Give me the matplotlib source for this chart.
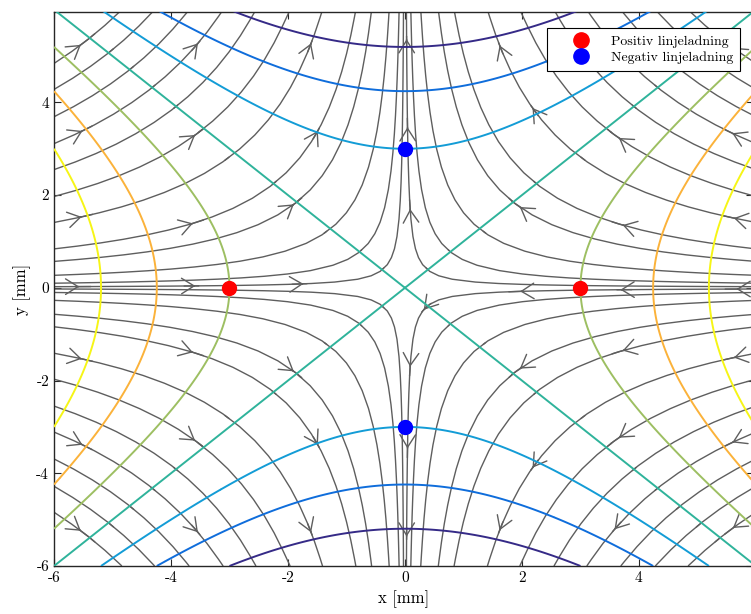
import numpy as np
import matplotlib.pyplot as plt

plt.rcParams['font.family'] = 'cmr10'
plt.rcParams['axes.unicode_minus'] = False

# linjeladninger (mm)
pos_x = [-3, 3]
pos_y = [0, 0]
neg_x = [0, 0]
neg_y = [3, -3]

# ekvipotensialnivaer for V = x^2 - y^2
levels = [-27, -18, -9, 0, 9, 18, 27]
level_colors = ['#352a87', '#0f6ddb', '#139cd6', '#2fb39b', '#9dbf62', '#fbb23a', '#f6f516']

# feltlinjene krysser venstre/hoyre kant i |y| = edge_y
edge_y = [0.025, 0.1, 0.27, 0.57, 0.84, 1.41, 1.97, 2.55, 3.11, 3.69, 4.28, 4.84, 5.43, 5.72]

line_color = '#5e5e5e'

x = np.linspace(-6, 6, 241)
y = np.linspace(-6, 6, 241)
X, Y = np.meshgrid(x, y)
V = X**2 - Y**2
Ey, Ex = np.gradient(-V, y, x)

fig = plt.figure(figsize=(7.51, 6.14), dpi=100)
ax = fig.add_axes([54 / 751, 48 / 614, 699 / 751, 554 / 614])

ax.contour(X, Y, V, levels=levels, colors=level_colors, linewidths=1.4, zorder=3)

# startpunkter langs kantene
ey = np.array(edge_y)
seeds = np.vstack([
    np.column_stack([np.full_like(ey, -6.0), ey]),
    np.column_stack([np.full_like(ey, -6.0), -ey]),
    np.column_stack([np.full_like(ey, 6.0), ey]),
    np.column_stack([np.full_like(ey, 6.0), -ey]),
])
ax.streamplot(x, y, Ex, Ey, start_points=seeds, broken_streamlines=False,
              arrowstyle='-', color=line_color, linewidth=1.0, maxlength=10,
              zorder=2)

# piler plassert i et rutenett, flyttet til naermeste feltlinje
cvals = seeds[:, 0] * seeds[:, 1]
t = np.linspace(-6, 6, 6001)
t = t[t != 0]
curve_pts = []
for c in cvals:
    yy = c / t
    ok = np.abs(yy) <= 6
    curve_pts.append(np.column_stack([t[ok], yy[ok]]))
    curve_pts.append(np.column_stack([yy[ok], t[ok]]))
curve_pts = np.vstack(curve_pts)

cols = np.linspace(-5.5, 5.6, 7)
rows = np.linspace(5.3, -5.3, 7)
arrow_pts = []
for gy in rows:
    for gx in cols:
        d = np.hypot((curve_pts[:, 0] - gx) * 58.5, (curve_pts[:, 1] - gy) * 46.3)
        arrow_pts.append(curve_pts[np.argmin(d)])
arrow_pts = np.clip(np.array(arrow_pts), -5.9, 5.9)

ax.streamplot(x, y, Ex, Ey, start_points=arrow_pts, broken_streamlines=False,
              density=3, maxlength=0.03, minlength=0.001, arrowsize=2,
              arrowstyle='->,head_length=0.45,head_width=0.28',
              color=line_color, linewidth=1.0, zorder=2)

ax.plot(pos_x, pos_y, 'o', color='red', ms=10, zorder=5, label='Positiv linjeladning')
ax.plot(neg_x, neg_y, 'o', color='blue', ms=10, zorder=5, label='Negativ linjeladning')

ax.set_xlim(-6, 5.95)
ax.set_ylim(-6, 5.95)
ax.set_xticks([-6, -4, -2, 0, 2, 4])
ax.set_yticks([-6, -4, -2, 0, 2, 4])
ax.tick_params(direction='in', top=True, right=True, length=5, width=0.8,
               labelsize=11, color='#262626')
for s in ax.spines.values():
    s.set_linewidth(1.0)
    s.set_color('#262626')

ax.set_xlabel('x [mm]', fontsize=12)
ax.set_ylabel('y [mm]', fontsize=12)

leg = ax.legend(loc='upper right', bbox_to_anchor=(740 / 751, 1 - 28 / 614),
                bbox_transform=fig.transFigure, borderaxespad=0, fontsize=10,
                fancybox=False, framealpha=1, edgecolor='black', markerscale=1.1,
                handlelength=3.9, handletextpad=0.2, borderpad=0.5,
                labelspacing=0.25)
leg.get_frame().set_linewidth(0.8)
leg.set_zorder(10)

fig.savefig('out.png', dpi=100)
